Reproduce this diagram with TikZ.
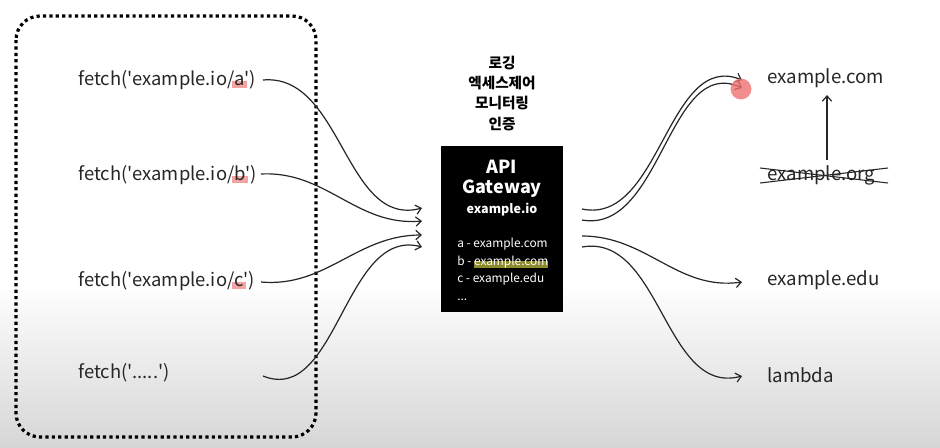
\documentclass[tikz,border=0pt]{standalone}
\usepackage{fontspec}
\setmainfont{Noto Sans CJK KR}
\usetikzlibrary{arrows.meta}
\definecolor{hlred}{HTML}{F4A3A3}
\definecolor{hlolive}{HTML}{8C8C2E}
\definecolor{dotred}{HTML}{F07070}
\definecolor{bggray}{HTML}{D6D6D6}
\newcommand\hlmark[4]{\setbox0\hbox{#1}\makebox[0pt][l]{\hspace{-#2}\color{#4}\rule[-2.2pt]{\dimexpr\wd0+#2+#2\relax}{#3}}#1}
\newcommand\qq{\textquotesingle}
\begin{document}
\begin{tikzpicture}[x=0.75pt,y=-0.75pt,
  ftxt/.style={anchor=base west,inner sep=0pt,font=\fontsize{13.8}{16}\selectfont,text=black!85},
  rtxt/.style={anchor=base west,inner sep=0pt,font=\fontsize{14}{16}\selectfont,text=black!85},
  krtxt/.style={anchor=center,inner sep=0pt,font=\fontsize{11}{13}\selectfont\bfseries},
  gwbig/.style={anchor=center,inner sep=0pt,text=white,font=\fontsize{13.5}{16}\selectfont\bfseries},
  gwsmall/.style={anchor=center,inner sep=0pt,text=white,font=\fontsize{9.4}{12}\selectfont\bfseries},
  gwlist/.style={anchor=base west,inner sep=0pt,text=white,font=\fontsize{8.9}{11}\selectfont},
  arr/.style={line width=0.9pt,black!85,-{Straight Barb[length=4pt,width=7pt]}},
  dotbox/.style={line width=2.4pt,dash pattern=on 2.4pt off 2.4pt,rounded corners=18pt}
]
\useasboundingbox (0,0) rectangle (940,447);
\fill[white] (0,0) rectangle (940,447);
\shade[top color=white,bottom color=bggray] (0,283) rectangle (940,447);

% dotted group
\draw[dotbox] (16,16) rectangle (316,437);

% fetch texts
\node[ftxt] (fa) at (78,85) {fetch(\qq example.io/\hlmark{a}{2pt}{5.5pt}{hlred}\qq)};
\node[ftxt] (fb) at (78,180) {fetch(\qq example.io/\hlmark{b}{2pt}{5.5pt}{hlred}\qq)};
\node[ftxt] (fc) at (78,286) {fetch(\qq example.io/\hlmark{c}{2pt}{5.5pt}{hlred}\qq)};
\node[ftxt] (fd) at (78,378) {fetch(\qq.....\qq)};

% gateway
\node[fill=black,minimum width=91.5pt,minimum height=124.5pt,inner sep=0pt] (gw) at (502,229) {};
\node[gwbig] (api) at (502,167) {API};
\node[gwbig] (gwy) at (502,189) {Gateway};
\node[gwsmall] (eio) at (502,210) {example.io};
\node[gwlist] (l1) at (457,247) {a - example.com};
\node[gwlist] (l2) at (457,265) {b - \hlmark{example.com}{0pt}{5pt}{hlolive}};
\node[gwlist] (l3) at (457,282) {c - example.edu};
\node[gwlist] (l4) at (457,300) {...};

% korean labels
\node[krtxt] (k1) at (502,63) {로깅};
\node[krtxt] (k2) at (502,83) {엑세스제어};
\node[krtxt] (k3) at (502,103) {모니터링};
\node[krtxt] (k4) at (502,124) {인증};

% right texts
\node[rtxt] (rcom) at (767,83) {example.com};
\node[rtxt] (rorg) at (767,180) {example.org};
\node[rtxt] (redu) at (767,285) {example.edu};
\node[rtxt] (rlam) at (767,382) {lambda};

% coordinates
\coordinate (sa) at (263,80);
\coordinate (sb) at (261,174);
\coordinate (sc) at (261,282);
\coordinate (sd) at (263,376);
\coordinate (ea) at (422,208);
\coordinate (eb) at (422,221);
\coordinate (ec) at (422,235);
\coordinate (ed) at (422,247);
\coordinate (ga) at (582,209);
\coordinate (gb) at (582,220);
\coordinate (gc) at (582,236);
\coordinate (gd) at (582,247);
\coordinate (ta) at (742,80);
\coordinate (tb) at (742,88);
\coordinate (tc) at (742,282);
\coordinate (td) at (742,376);
\coordinate (up1) at (827,160);
\coordinate (up2) at (827,95);
\coordinate (x1) at (760,168);
\coordinate (x2) at (888,183);
\coordinate (x3) at (760,183);
\coordinate (x4) at (888,168);

% left arrows
\draw[arr] (sa) to[out=5,in=195] (ea);
\draw[arr] (sb) to[out=3,in=185] (eb);
\draw[arr] (sc) to[out=-5,in=180] (ec);
\draw[arr] (sd) to[out=-22,in=165] (ed);

% right arrows
\draw[arr] (ga) to[out=-12,in=158] (ta);
\draw[arr] (gb) to[out=-10,in=155] (tb);
\draw[arr] (gc) to[out=0,in=188] (tc);
\draw[arr] (gd) to[out=10,in=195] (td);

% strike and up arrow
\draw[line width=0.8pt,black!85] (x1) -- (x2);
\draw[line width=0.8pt,black!85] (x3) -- (x4);
\draw[arr] (up1) -- (up2);

% red dot
\fill[dotred,opacity=0.8] (741,89) circle (7.8pt);
\end{tikzpicture}
\end{document}
